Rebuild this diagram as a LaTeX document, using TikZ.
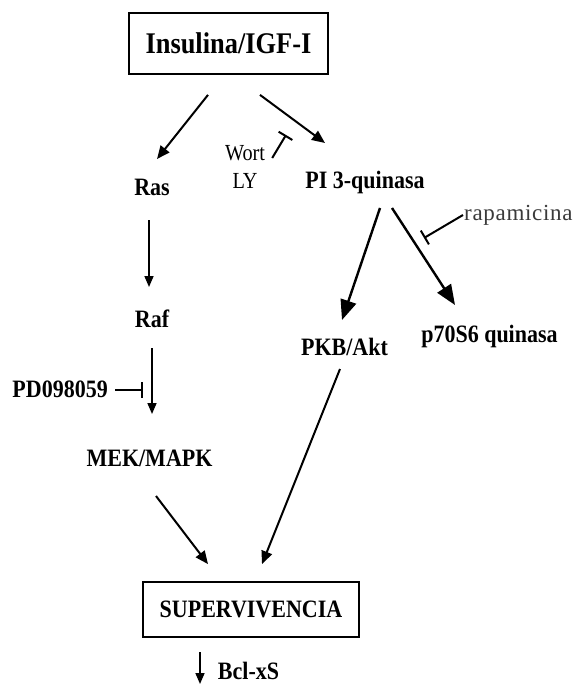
\documentclass[tikz,border=0pt]{standalone}
\usepackage{fontspec}
\setmainfont{Liberation Serif}
\newfontfamily\pathfont[FakeStretch=0.88]{Liberation Serif}
\newfontfamily\drugfont[LetterSpace=3]{Liberation Serif}
\usetikzlibrary{positioning, arrows.meta, calc}
\usepackage{xcolor}
\definecolor{druggray}{HTML}{3A3A3A}

\begin{document}
\begin{tikzpicture}[x=1pt, y=-1pt,
    lab/.style={inner sep=0pt, anchor=base, font=\pathfont\bfseries\fontsize{25}{28}\selectfont},
    box/.style={draw, line width=1.8pt, inner sep=0pt},
    act/.style={line width=2pt, -{Triangle[length=13pt, width=11pt]}},
    actbig/.style={line width=2.4pt, -{Triangle[length=20pt, width=16pt]}},
    actthin/.style={line width=1.6pt, -{Triangle[length=11pt, width=9pt]}},
    inhib/.style={line width=2pt, -{Bar[width=16pt]}}]
  \useasboundingbox (0,0) rectangle (577,687);
  % boxes
  \node[box, minimum width=199pt, minimum height=61pt,
        font=\pathfont\bfseries\fontsize{30}{34}\selectfont] (ins) at (228.5,43.5) {Insulina/IGF-I};
  \node[box, minimum width=216pt, minimum height=55pt,
        font=\pathfont\bfseries\fontsize{25}{28}\selectfont] (sup) at (251,609.5) {SUPERVIVENCIA};
  % labels
  \node[lab] (ras) at (152,195) {Ras};
  \node[lab] (raf) at (152,327) {Raf};
  \node[lab] (mek) at (149.5,466) {MEK/MAPK};
  \node[lab, anchor=base east] (pd) at (108,397) {PD098059};
  \node[lab] (pi3) at (365,188) {PI 3-quinasa};
  \node[lab] (pkb) at (344.5,355) {PKB/Akt};
  \node[lab] (p70) at (489.5,342) {p70S6 quinasa};
  \node[lab] (bcl) at (248.5,679) {Bcl-xS};
  \node[inner sep=0pt, align=center, font=\pathfont\fontsize{23}{28}\selectfont] (wort) at (245,166.5) {Wort\\LY};
  \node[inner sep=0pt, anchor=base west, text=druggray,
        font=\drugfont\fontsize{23}{26}\selectfont] (rapa) at (464,220) {rapamicina};
  % inhibitor ends
  \coordinate (wortT) at (286,135);
  \coordinate (pdT) at (143,390);
  \coordinate (rapaT) at (424,238);
  % arrows
  \draw[act] ($(ins.south)+(-20.5,20)$) -- ($(ras.base)+(5,-36)$);
  \draw[act] ($(ins.south)+(31.5,20)$) -- ($(pi3.base)+(-40,-45)$);
  \draw[inhib] ($(wort.east)+(7,-8.5)$) -- (wortT);
  \draw[actthin] ($(ras.base)+(-3,25)$) -- ($(raf.base)+(-3,-40)$);
  \draw[actthin] ($(raf.base)+(0,21)$) -- ($(mek.base)+(2.5,-52)$);
  \draw[inhib, line width=1.6pt] ($(pd.base east)+(7,-7)$) -- (pdT);
  \draw[actbig] ($(pi3.base)+(15,20)$) -- ($(pkb.base)+(-2.5,-35)$);
  \draw[actbig] ($(pi3.base)+(27,20)$) -- ($(p70.base)+(-34.5,-37)$);
  \draw[inhib] ($(rapa.base west)+(-1,-5)$) -- (rapaT);
  \draw[act] ($(mek.base)+(6.5,30)$) -- ($(sup.north)+(-43,-17)$);
  \draw[act] ($(pkb.base)+(-4.5,14)$) -- ($(sup.north)+(11,-17)$);
  \draw[actthin] ($(bcl.base)+(-48.5,-27)$) -- ($(bcl.base)+(-48.5,5)$);
\end{tikzpicture}
\end{document}
